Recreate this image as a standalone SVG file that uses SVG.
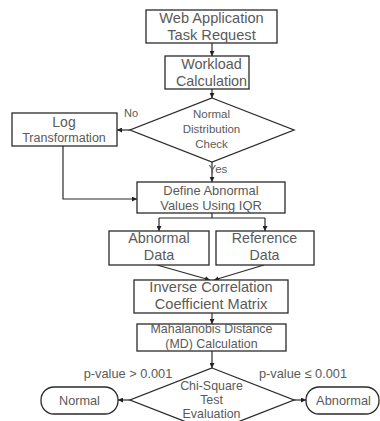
<svg xmlns="http://www.w3.org/2000/svg" width="380" height="421" viewBox="0 0 380 421">
  <defs>
    <marker id="arrow" viewBox="0 0 6 6" refX="6" refY="3" markerWidth="5" markerHeight="5" orient="auto" markerUnits="userSpaceOnUse">
      <path d="M0,0 L6,3 L0,6 z" fill="#222"/>
    </marker>
    <style>
      .box { fill: #fff; stroke: #2a2a2a; stroke-width: 1.3; }
      .t { font-family: "Liberation Sans", Arial, sans-serif; fill: #5a5a5a; text-anchor: middle; }
      .edge { fill: none; stroke: #2a2a2a; stroke-width: 1.2; }
      .arr { marker-end: url(#arrow); }
    </style>
  </defs>
  <rect width="380" height="421" fill="#fff"/>

  <g id="connectors">
    <path class="edge arr" d="M212,43 V56"/>
    <path class="edge arr" d="M212,89 V98"/>
    <path class="edge arr" d="M130,130 H117"/>
    <path class="edge arr" d="M212,162 V182"/>
    <path class="edge arr" d="M63,146 V199 H137"/>
    <path class="edge" d="M212,213 V218 M159,218 H265"/>
    <path class="edge arr" d="M159,218 V231"/>
    <path class="edge arr" d="M265,218 V231"/>
    <path class="edge arr" d="M157,265 L210,280"/>
    <path class="edge arr" d="M264,265 L214,280"/>
    <path class="edge arr" d="M212,313 V324"/>
    <path class="edge arr" d="M212,351 V368"/>
    <path class="edge arr" d="M130,400 H118"/>
    <path class="edge arr" d="M293,400 H306"/>
  </g>

  <g id="web-request">
    <rect class="box" x="146" y="10" width="131" height="33"/>
    <text class="t" x="211.5" y="23" font-size="14.6">Web Application</text>
    <text class="t" x="211.5" y="40" font-size="14.6">Task Request</text>
  </g>

  <g id="workload">
    <rect class="box" x="165" y="56" width="84" height="33"/>
    <text class="t" x="211.5" y="69" font-size="14.4">Workload</text>
    <text class="t" x="211.5" y="86" font-size="14.4">Calculation</text>
  </g>

  <g id="normality-check">
    <polygon class="box" points="212,98 294,130 212,162 130,130"/>
    <text class="t" x="211.5" y="118" font-size="11.5">Normal</text>
    <text class="t" x="211.5" y="133" font-size="11.5">Distribution</text>
    <text class="t" x="211.5" y="148" font-size="11.5">Check</text>
    <text class="t" x="131" y="117" font-size="11">No</text>
    <text class="t" x="218" y="173" font-size="11.5">Yes</text>
  </g>

  <g id="log-transform">
    <rect class="box" x="12" y="113" width="105" height="33"/>
    <text class="t" x="64" y="127" font-size="14">Log</text>
    <text class="t" x="64" y="142" font-size="12.5">Transformation</text>
  </g>

  <g id="define-iqr">
    <rect class="box" x="137" y="182" width="148" height="31"/>
    <text class="t" x="211" y="195" font-size="12.9">Define Abnormal</text>
    <text class="t" x="211" y="210" font-size="12.9">Values Using IQR</text>
  </g>

  <g id="abnormal-data">
    <rect class="box" x="109" y="231" width="100" height="34"/>
    <text class="t" x="159" y="243" font-size="14.4">Abnormal</text>
    <text class="t" x="159" y="260" font-size="14.4">Data</text>
  </g>

  <g id="reference-data">
    <rect class="box" x="216" y="231" width="98" height="34"/>
    <text class="t" x="264.5" y="243" font-size="14.2">Reference</text>
    <text class="t" x="264.5" y="260" font-size="14.2">Data</text>
  </g>

  <g id="inverse-matrix">
    <rect class="box" x="134" y="280" width="154" height="33"/>
    <text class="t" x="211" y="292" font-size="14.6">Inverse Correlation</text>
    <text class="t" x="211" y="309" font-size="14.6">Coefficient Matrix</text>
  </g>

  <g id="mahalanobis">
    <rect class="box" x="137" y="324" width="149" height="27"/>
    <text class="t" x="211.5" y="333" font-size="12.4">Mahalanobis Distance</text>
    <text class="t" x="211.5" y="348" font-size="12.4">(MD) Calculation</text>
  </g>

  <g id="chi-square">
    <polygon class="box" points="212,368 294,400 212,432 130,400"/>
    <text class="t" x="211.5" y="390" font-size="12.4">Chi-Square</text>
    <text class="t" x="211.5" y="404" font-size="12.4">Test</text>
    <text class="t" x="211.5" y="418" font-size="12.4">Evaluation</text>
    <text class="t" x="128" y="378" font-size="12.8">p-value &gt; 0.001</text>
    <text class="t" x="303" y="378" font-size="12.8">p-value ≤ 0.001</text>
  </g>

  <g id="normal">
    <rect class="box" x="41" y="387" width="77" height="27" rx="13" ry="13"/>
    <text class="t" x="79.5" y="405" font-size="12.7">Normal</text>
  </g>

  <g id="abnormal">
    <rect class="box" x="306" y="387" width="73" height="27" rx="13" ry="13"/>
    <text class="t" x="343.5" y="405" font-size="12.8">Abnormal</text>
  </g>
</svg>
